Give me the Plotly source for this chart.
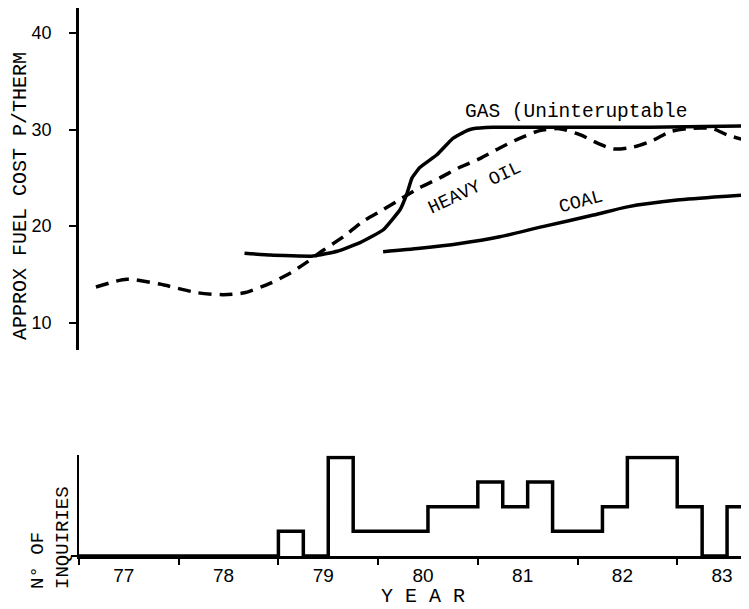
import plotly.graph_objects as go

# ---- data ----
gas_years = [78.66, 78.92, 79.35, 79.59, 79.82, 80.05, 80.22, 80.29, 80.34, 80.42,
             80.59, 80.75, 80.89, 80.95, 81.15, 81.72, 82.73, 83.72]
gas_cost = [17.2, 17.0, 16.9, 17.4, 18.3, 19.6, 21.7, 23.4, 25.0, 26.1,
            27.4, 29.1, 29.9, 30.1, 30.25, 30.25, 30.25, 30.4]

oil_years = [77.17, 77.48, 77.81, 78.19, 78.45, 78.66, 78.92, 79.12, 79.29, 79.45,
             79.65, 79.85, 80.05, 80.24, 80.42, 80.62, 80.82, 81.02, 81.22, 81.42,
             81.62, 81.82, 82.03, 82.20, 82.36, 82.56, 82.76, 82.93, 83.16, 83.36,
             83.5, 83.72]
oil_cost = [13.7, 14.5, 14.0, 13.1, 12.9, 13.1, 14.1, 15.15, 16.3, 17.5,
            18.9, 20.5, 21.7, 22.9, 24.0, 25.0, 26.1, 27.0, 28.1, 29.1,
            29.9, 30.1, 29.45, 28.6, 28.0, 28.2, 28.9, 29.8, 30.15, 30.1,
            29.45, 28.8]

coal_years = [80.05, 80.42, 80.82, 81.22, 81.65, 82.16, 82.50, 83.0, 83.5, 83.72]
coal_cost = [17.35, 17.7, 18.2, 18.9, 19.95, 21.15, 22.0, 22.7, 23.1, 23.25]

quarter_start = [77.0, 79.0, 79.25, 79.5, 79.75, 80.0, 80.25, 80.5, 80.75, 81.0,
                 81.25, 81.5, 81.75, 82.0, 82.25, 82.5, 82.75, 83.0, 83.25, 83.5, 83.75]
inquiries = [0, 1, 0, 4, 1, 1, 1, 2, 2, 3,
             2, 3, 1, 1, 2, 4, 4, 2, 0, 2, 2]

year_boundaries = [77, 78, 79, 80, 81, 82, 83]
year_label_pos = [77.45, 78.45, 79.45, 80.45, 81.45, 82.45, 83.45]
year_labels = ["77", "78", "79", "80", "81", "82", "83"]
cost_ticks = [10, 20, 30, 40]

MONO = "Liberation Mono"
SANS = "Liberation Sans"
XR = [77.0, 83.72]

fig = go.Figure()

fig.add_trace(go.Scatter(x=oil_years, y=oil_cost, mode="lines",
                         line=dict(color="black", width=3.5, dash="13px,8px",
                                   shape="spline", smoothing=0.7),
                         xaxis="x", yaxis="y", showlegend=False, hoverinfo="skip"))
fig.add_trace(go.Scatter(x=gas_years, y=gas_cost, mode="lines",
                         line=dict(color="black", width=3.5, shape="spline", smoothing=0.3),
                         xaxis="x", yaxis="y", showlegend=False, hoverinfo="skip"))
fig.add_trace(go.Scatter(x=coal_years, y=coal_cost, mode="lines",
                         line=dict(color="black", width=3.5, shape="spline", smoothing=0.7),
                         xaxis="x", yaxis="y", showlegend=False, hoverinfo="skip"))

fig.add_trace(go.Scatter(x=quarter_start, y=inquiries, mode="lines",
                         line=dict(color="black", width=3.5, shape="hv"),
                         xaxis="x2", yaxis="y2", showlegend=False, hoverinfo="skip"))

# page body has an 8px margin: size the figure to fit the 749x609 window
fig.update_layout(
    width=741, height=601,
    margin=dict(l=71, r=0, t=0, b=53),
    paper_bgcolor="white", plot_bgcolor="white",
    xaxis=dict(domain=[0, 1], range=XR, visible=False, anchor="y"),
    yaxis=dict(domain=[0.3759, 1], range=[7.17, 42.6], anchor="x",
               showline=True, linewidth=2.5, linecolor="black",
               showgrid=False, zeroline=False,
               tickmode="array", tickvals=cost_ticks,
               ticks="outside", ticklen=7, tickwidth=2, tickcolor="black",
               ticklabelstandoff=14,
               tickfont=dict(family=SANS, size=18, color="black")),
    xaxis2=dict(domain=[0, 1], range=XR, anchor="y2",
                showline=True, linewidth=3, linecolor="black",
                showgrid=False, zeroline=False,
                tickmode="array", tickvals=year_label_pos, ticktext=year_labels,
                ticks="", ticklabelstandoff=0,
                tickfont=dict(family=SANS, size=19, color="black"),
                minor=dict(tickmode="array", tickvals=year_boundaries,
                           ticks="outside", ticklen=6, tickwidth=2,
                           tickcolor="black", showgrid=False)),
    yaxis2=dict(domain=[0, 0.1834], range=[0, 4.08], anchor="x2",
                showline=True, linewidth=2, linecolor="black",
                showgrid=False, zeroline=False,
                tickmode="array", tickvals=[0], ticktext=[""],
                ticks="outside", ticklen=6, tickwidth=2, tickcolor="black"),
)

annotations = [
    dict(text="APPROX FUEL COST P/THERM", xref="paper", yref="paper",
         x=-0.0866, y=0.657, textangle=-90, showarrow=False,
         xanchor="center", yanchor="middle",
         font=dict(family=MONO, size=20, color="black")),
    dict(text="N° OF<br>INQUIRIES", xref="paper", yref="paper",
         x=-0.0418, y=0.0347, textangle=-90, showarrow=False, align="left",
         xanchor="center", yanchor="middle",
         font=dict(family=MONO, size=19, color="black")),
    dict(text="Y E A R", xref="paper", yref="paper",
         x=0.513, y=-0.0748, showarrow=False,
         xanchor="center", yanchor="middle",
         font=dict(family=MONO, size=20, color="black")),
    dict(text="GAS (Uninteruptable", xref="x", yref="y",
         x=81.985, y=31.83, showarrow=False,
         xanchor="center", yanchor="middle",
         font=dict(family=MONO, size=19.5, color="black")),
    dict(text="HEAVY OIL", xref="x", yref="y",
         x=80.97, y=23.9, textangle=-25, showarrow=False,
         xanchor="center", yanchor="middle",
         font=dict(family=MONO, size=18.5, color="black")),
    dict(text="COAL", xref="x", yref="y",
         x=82.03, y=22.4, textangle=-15, showarrow=False,
         xanchor="center", yanchor="middle",
         font=dict(family=MONO, size=18.5, color="black")),
]
fig.update_layout(annotations=annotations)

fig.write_html("out.html")
